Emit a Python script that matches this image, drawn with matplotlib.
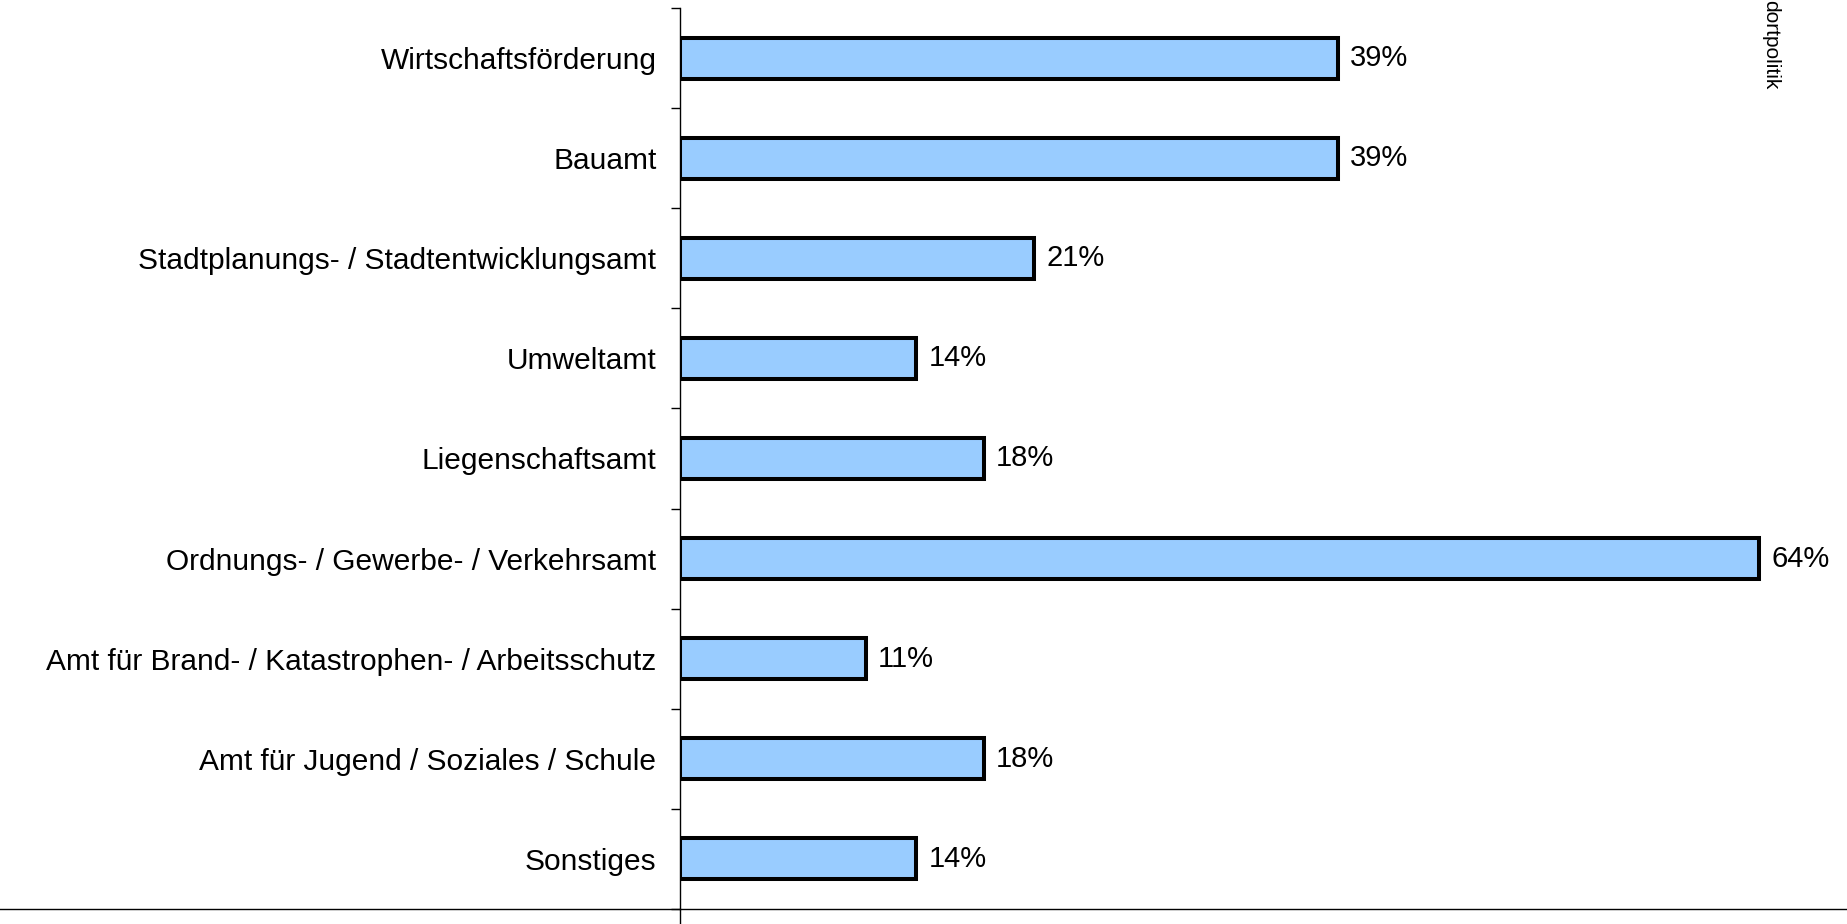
import matplotlib
matplotlib.use("Agg")
import matplotlib.pyplot as plt
from matplotlib.lines import Line2D

categories = [
    "Wirtschaftsförderung",
    "Bauamt",
    "Stadtplanungs- / Stadtentwicklungsamt",
    "Umweltamt",
    "Liegenschaftsamt",
    "Ordnungs- / Gewerbe- / Verkehrsamt",
    "Amt für Brand- / Katastrophen- / Arbeitsschutz",
    "Amt für Jugend / Soziales / Schule",
    "Sonstiges",
]
values = [39, 39, 21, 14, 18, 64, 11, 18, 14]
side_title = "dortpolitik"

plt.rcParams['font.family'] = ['Liberation Sans', 'DejaVu Sans']

W, H = 1847, 924
fig = plt.figure(figsize=(W / 100, H / 100), dpi=100)
ax = fig.add_axes([680 / W, 1 - 909 / H, 1 - 680 / W, (909 - 8) / H])

ypos = list(range(len(categories)))
ax.barh(ypos, values, height=0.41, color="#99CCFF", edgecolor="black", linewidth=2.9)
for y, v in zip(ypos, values):
    ax.text(v + 0.75, y, f"{v}%", va="center", ha="left", fontsize=21)

ax.set_xlim(0, 69.2)
ax.set_ylim(len(categories) - 0.5, -0.5)
ax.set_yticks(ypos)
ax.set_yticklabels(categories, fontsize=21.5)
ax.tick_params(axis="y", which="major", length=0, pad=17)
ax.set_yticks([i - 0.5 for i in range(len(categories) + 1)], minor=True)
ax.tick_params(axis="y", which="minor", length=6.5, width=1, color="black", direction="out")
ax.set_xticks([])
for s in ["top", "right", "bottom"]:
    ax.spines[s].set_visible(False)
ax.spines["left"].set_linewidth(1)

# full-width baseline and spine extension
fig.add_artist(Line2D([0, 1], [1 - 909 / H, 1 - 909 / H], transform=fig.transFigure, color="black", lw=1))
fig.add_artist(Line2D([680 / W, 680 / W], [0, 1 - 909 / H], transform=fig.transFigure, color="black", lw=1))

fig.text(1771 / W, 1.0, side_title, rotation=270, ha="center", va="top", fontsize=15)

fig.savefig("out.png", dpi=100)
